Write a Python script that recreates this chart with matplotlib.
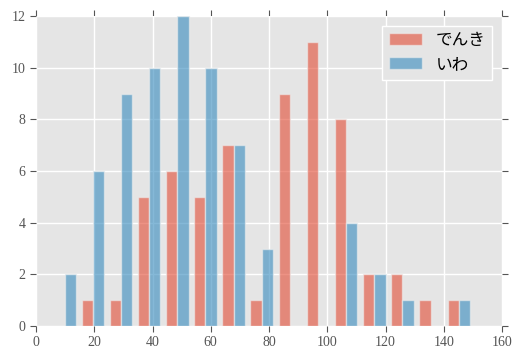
import numpy as np
import matplotlib
matplotlib.use("Agg")
import matplotlib.pyplot as plt

labels = ["でんき", "いわ"]
bin_edges = np.linspace(5, 150, 16)
denki_counts = [0, 1, 1, 5, 6, 5, 7, 1, 9, 11, 8, 2, 2, 1, 1]
iwa_counts = [2, 6, 9, 10, 12, 10, 7, 3, 0, 0, 4, 2, 1, 0, 1]
colors = ["#E24A33", "#348ABD"]

plt.rcParams['font.family'] = ['Liberation Serif', 'Noto Sans CJK JP', 'DejaVu Sans']

fig = plt.figure(figsize=(5.2, 3.6), dpi=100)
ax = fig.add_axes([36/520, 1-326/360, (502-36)/520, (326-16)/360])
ax.set_facecolor("#E5E5E5")
ax.set_axisbelow(True)
ax.grid(True, color="white", linewidth=1.0)
for s in ax.spines.values():
    s.set_visible(False)

centers = (bin_edges[:-1] + bin_edges[1:]) / 2
ax.hist([centers, centers], bins=bin_edges, weights=[denki_counts, iwa_counts],
        color=colors, alpha=0.6, label=labels, rwidth=0.8,
        edgecolor="#EEEEEE", linewidth=1.0)

ax.set_xlim(0, 160)
ax.set_ylim(0, 12)
ax.set_xticks(range(0, 161, 20))
ax.set_yticks(range(0, 13, 2))
ax.tick_params(direction="out", length=4, color="#555555", labelcolor="#555555",
               labelsize=10, top=True, right=True)

leg = ax.legend(loc="upper right", fontsize=12, frameon=True, fancybox=False,
                handlelength=2.0, borderaxespad=0.6)
leg.get_frame().set_facecolor("#E5E5E5")
leg.get_frame().set_edgecolor("white")
leg.get_frame().set_alpha(1.0)

fig.savefig("out.png", dpi=100)
